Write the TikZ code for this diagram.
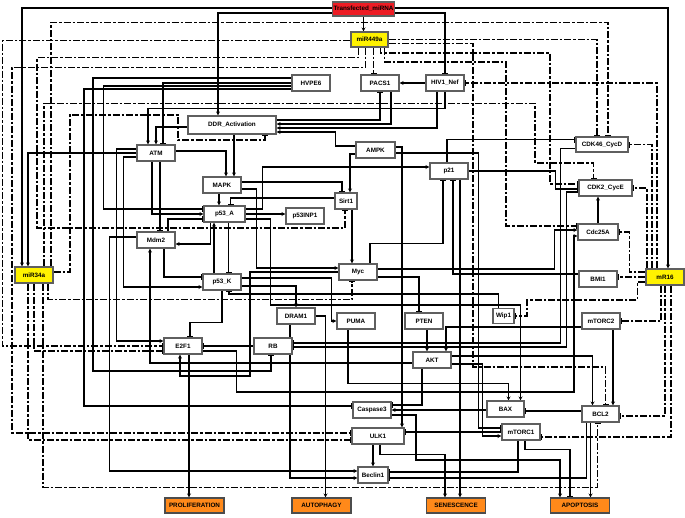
\documentclass[tikz,border=0pt]{standalone}
\usepackage{fontspec}
\setmainfont{Liberation Sans}
\usetikzlibrary{arrows.meta,backgrounds}
\definecolor{mirred}{RGB}{237,28,36}
\definecolor{miryellow}{RGB}{255,242,0}
\definecolor{fateorange}{RGB}{255,137,26}
\definecolor{boxgray}{RGB}{95,95,95}

\begin{document}
\begin{tikzpicture}[x=1pt, y=-1pt, font=\fontsize{6.3}{7}\selectfont\bfseries]
    \tikzstyle{gene} = [rectangle, draw=boxgray, fill=white, line width=1.1pt,
        minimum width=38pt, minimum height=16pt, inner sep=1pt, text centered]
    \tikzstyle{mirna} = [gene, fill=miryellow]
    \tikzstyle{fate} = [gene, fill=fateorange, draw=black!70, minimum width=59pt, minimum height=15pt]
    \tikzstyle{act} = [line width=1.25pt, -{Stealth[length=4pt,width=4pt]}]
    \tikzstyle{inh} = [line width=1.25pt, -{Bar[width=6pt]}]
    \tikzstyle{minh} = [inh, line width=1.7pt, dash pattern=on 7pt off 2pt on 2.5pt off 2pt]

    \useasboundingbox (0,0) rectangle (685,517);

    % inputs and miRNAs
    \node [gene, fill=mirred, minimum width=61pt, minimum height=14pt] (tm) at (363.5,9) {Transfected\_miRNA};
    \node [mirna, minimum width=37pt, minimum height=15pt] (m449) at (369.5,39.5) {miR449a};
    \node [mirna] (m34) at (34,275) {miR34a};
    \node [mirna] (m16) at (665,277) {mR16};

    % genes
    \node [gene] (pacs) at (380,83) {PACS1};
    \node [gene] (nef) at (445,83) {HIV1\_Nef};
    \node [gene] (hvpe) at (311,83) {HVPE6};
    \node [gene, minimum width=88pt, minimum height=18pt] (ddr) at (232,125) {DDR\_Activation};
    \node [gene] (atm) at (156,153) {ATM};
    \node [gene] (mapk) at (222,185) {MAPK};
    \node [gene, minimum width=41pt] (p53a) at (224.5,214) {p53\_A};
    \node [gene] (inp1) at (305,216) {p53INP1};
    \node [gene] (mdm2) at (156,240) {Mdm2};
    \node [gene, minimum width=22pt] (sirt) at (346,201) {Sirt1};
    \node [gene, minimum width=39pt] (ampk) at (375.5,150) {AMPK};
    \node [gene] (p21) at (449,171) {p21};
    \node [gene, minimum width=52pt, minimum height=15pt] (cdk46) at (602,144.5) {CDK46\_CycD};
    \node [gene, minimum width=53pt] (cdk2) at (605.5,188) {CDK2\_CycE};
    \node [gene, minimum width=40pt] (cdc) at (598,232) {Cdc25A};
    \node [gene] (p53k) at (222,282) {p53\_K};
    \node [gene] (myc) at (358,272) {Myc};
    \node [gene] (dram) at (296,316) {DRAM1};
    \node [gene] (puma) at (356,321) {PUMA};
    \node [gene] (pten) at (424,321) {PTEN};
    \node [gene, minimum width=21pt, minimum height=15pt] (wip) at (503.5,316) {Wip1};
    \node [gene] (bmi) at (598,279) {BMI1};
    \node [gene] (mtorc2) at (601,321) {mTORC2};
    \node [gene] (akt) at (432,360) {AKT};
    \node [gene] (e2f1) at (183,346) {E2F1};
    \node [gene] (rb) at (273,346) {RB};
    \node [gene] (casp) at (372,410) {Caspase3};
    \node [gene, minimum width=37pt] (bax) at (505.5,409) {BAX};
    \node [gene, minimum width=37pt] (bcl2) at (600.5,414) {BCL2};
    \node [gene, minimum width=52pt] (ulk) at (378,436) {ULK1};
    \node [gene] (mtorc1) at (521,432) {mTORC1};
    \node [gene, minimum width=30pt] (becl) at (373,475) {Beclin1};

    % fates
    \node [fate] (prol) at (194.5,505.5) {PROLIFERATION};
    \node [fate] (auto) at (321.5,505.5) {AUTOPHAGY};
    \node [fate] (sen) at (456,505.5) {SENESCENCE};
    \node [fate] (apo) at (580,505.5) {APOPTOSIS};

    \begin{scope}[on background layer]
    % transfection
    \draw [act] (tm.south) -- (tm.south |- m449.north);
    \draw [act] ([yshift=1pt]tm.west) -| ([xshift=-12pt]m34.north);
    \draw [act] ([yshift=-4pt]tm.west) -| ([xshift=-14pt]ddr.north);
    \draw [act] ([yshift=1pt]tm.east) -| ([xshift=3pt]m16.north);
    \draw [inh] ([yshift=-4pt]tm.east) -| (nef.north);

    % upper block
    \draw [act] (nef.west) -- (pacs.east);
    \draw [act] (nef.south) -- ++(0,17) -| ([xshift=-8pt]atm.north);
    \draw [act] ([xshift=-8pt]nef.south) |- ([yshift=-3pt]ddr.east);
    \draw [act] ([xshift=11pt]pacs.south) |- ([yshift=1pt]ddr.east);
    \draw [inh] ([yshift=5pt]ddr.east) -| (pacs.south);
    \draw [act] ([yshift=4pt]ampk.west) -- ++(-20,0) |- ([yshift=-7pt]ddr.east);
    \draw [inh] (hvpe.west) -| ([xshift=7pt]atm.north);
    \draw [act] ([yshift=-2pt]ddr.west) -| (atm.north);
    \draw [inh] ([yshift=5pt]hvpe.west) -| (93,371) -| ([xshift=-2pt]rb.south);
    \draw [inh] ([yshift=-3pt]hvpe.west) -- ++(-188,0) |- ([yshift=5pt]p53a.west);
    \draw [inh] ([yshift=-6pt]hvpe.west) -| (84,406) -- ([yshift=4pt]casp.west);
    \draw [act] ([xshift=2pt]ddr.south) -- ([xshift=2pt]ddr.south |- mapk.north);
    \draw [act] ([yshift=2pt]atm.east) -| ([xshift=4pt]mapk.north);
    \draw [act] ([xshift=-4pt]atm.south) |- (p53a.west);
    \draw [inh] ([xshift=4pt]atm.south) -- ([xshift=4pt]atm.south |- mdm2.north);
    \draw [act] (atm.west) -| ([xshift=-6pt]m34.north);
    \draw [act] ([yshift=4pt]atm.west) -- ++(-20,0) |- ([yshift=5pt]e2f1.west);
    \draw [act] ([yshift=-4pt]atm.west) -- ++(-13,0) |- ([yshift=-5pt]p53k.west);
    \draw [act] ([yshift=3pt]mdm2.west) -- ++(-27,0) |- ([yshift=4pt]becl.west);

    % p53 block
    \draw [act] ([xshift=-3pt]mapk.south) -- ([xshift=-3pt]mapk.south |- p53a.north);
    \draw [inh] ([yshift=3pt]mapk.east) -| ([xshift=-4pt]sirt.north);
    \draw [act] ([yshift=-4pt]ampk.west) -| ([xshift=4pt]sirt.north);
    \draw [act] ([yshift=-4pt]mapk.east) -- ++(15,0) |- ([yshift=4pt]myc.west);
    \draw [act] (p53a.east) -- (p53a.east -| inp1.west);
    \draw [act] ([xshift=-14pt]p53a.south) |- ([yshift=-4pt]mdm2.east);
    \draw [inh] ([xshift=12pt]mdm2.north) |- ([yshift=-5pt]p53a.west);
    \draw [inh] ([xshift=4pt]p53a.south) -- ([xshift=4pt]p53a.south |- p53k.north);
    \draw [act] ([xshift=-8pt]p53k.north) -- ([xshift=-8pt]p53k.north |- p53a.south);
    \draw [inh] ([xshift=8pt]mdm2.south) |- ([yshift=5pt]p53k.west);
    \draw [act] ([yshift=-4pt]p53k.east) -| (dram.north);
    \draw [act] ([yshift=4pt]p53k.east) -- ++(90,0) |- (puma.west);
    \draw [inh] ([xshift=-5pt]wip.north) -- ++(0,-14) -| ([xshift=7pt]p53k.south);
    \draw [inh] (p53k.south) -- ++(0,32) -| ([xshift=7pt]e2f1.north);
    \draw [act] ([yshift=5pt]p53a.east) -- ++(17,0) |- ([yshift=4pt]p21.west);
    \draw [act] ([yshift=-5pt]p53a.east) -- ++(25,0) -- ++(0,86) -| ([xshift=15pt]bax.north);
    \draw [inh] ([yshift=3pt]sirt.west) -| ([xshift=6pt]p53a.north);
    \draw [act] ([xshift=6pt]sirt.south) -- ([xshift=6pt]sirt.south |- myc.north);

    % cell cycle
    \draw [inh] (rb.west) -- (e2f1.east);
    \draw [act] ([xshift=6pt]e2f1.south) -- ([xshift=6pt]e2f1.south |- prol.north);
    \draw [act] (myc.west) -| (250,376) -| ([xshift=-3pt]e2f1.south);
    \draw [act] ([yshift=-5pt]e2f1.east) -- ++(34,0) |- (574,392) |- ([yshift=-4pt]cdc.west);
    \draw [inh] ([yshift=-4pt]cdk46.west) -- ++(-15,0) |- ([yshift=3pt]rb.east);
    \draw [inh] ([yshift=-4pt]cdk2.west) -- ++(-12,0) |- ([yshift=-1pt]rb.east);
    \draw [inh] ([xshift=-2pt]p21.north) |- ([yshift=5pt]cdk46.west);
    \draw [inh] (p21.east) -- ++(87,0) |- ([yshift=-1pt]cdk2.west);
    \draw [act] (cdc.north) -- (cdc.north |- cdk2.south);
    \draw [act] ([yshift=3pt]myc.east) -- ++(177,0) |- ([yshift=2pt]cdc.west);
    \draw [inh] ([xshift=12pt]myc.north) -- ++(0,-20) -| ([xshift=-6pt]p21.south);
    \draw [act] ([xshift=11pt]p21.south) -- ([xshift=11pt]p21.south |- sen.north);
    \draw [inh] ([yshift=5pt]bmi.west) -| ([xshift=4pt]p21.south);
    \draw [inh] ([yshift=-5pt]myc.east) -| ([xshift=-5pt]pten.north);

    % AKT / mTOR / autophagy
    \draw [act] ([xshift=3pt]pten.south) -- ([xshift=3pt]pten.south |- akt.north);
    \draw [act] ([yshift=-6pt]mtorc2.west) -| ([xshift=14pt]akt.north);
    \draw [act] ([yshift=-3pt]akt.west) -| ([xshift=-6pt]mdm2.south);
    \draw [inh] ([xshift=-10pt]akt.south) |- ([yshift=5pt]casp.east);
    \draw [act] ([yshift=-4pt]akt.east) -- ++(31,0) |- ([yshift=-4pt]mtorc1.west);
    \draw [act] ([yshift=4pt]akt.east) -| ([xshift=-8pt]bcl2.north);
    \draw [inh] ([yshift=-3pt]ampk.east) -- ++(83,0) |- ([yshift=4pt]mtorc1.west);
    \draw [act] ([yshift=3pt]ampk.east) -| ([xshift=24pt]ulk.north);
    \draw [inh] (mtorc1.west) -- (mtorc1.west -| ulk.east);
    \draw [inh] ([xshift=4pt]mtorc1.south) -- ++(0,9) -| ([xshift=-10pt]apo.north);
    \draw [inh] ([xshift=-3pt]mtorc1.south) |- ([yshift=3pt]becl.east);
    \draw [act] ([xshift=-5pt]ulk.south) -- ([xshift=-5pt]ulk.south |- becl.north);
    \draw [act] ([xshift=2pt]ulk.south) -- ++(0,10) -| ([xshift=-11pt]sen.north);
    \draw [act] (dram.east) -| ([xshift=4pt]auto.north);
    \draw [act] ([xshift=-6pt]dram.south) |- ([yshift=-3pt]becl.west);
    \draw [act] ([xshift=-8pt]puma.south) -- ++(0,54) -| ([xshift=3pt]bax.north);
    \draw [inh] ([yshift=3pt]bcl2.west) -- ([yshift=3pt]bcl2.west -| bax.east);
    \draw [act] ([yshift=-1pt]bax.west) -- ([yshift=-1pt]bax.west -| casp.east);
    \draw [act] ([yshift=-5pt]casp.east) -| (416,460) -| ([xshift=-20pt]apo.north);
    \draw [act] ([xshift=-10pt]bcl2.south) -- ([xshift=-10pt]bcl2.south |- apo.north);
    \draw [inh] ([xshift=-14pt]bcl2.south) |- ([yshift=-3pt]becl.east);
    \draw [act] ([xshift=12pt]mtorc2.south) -- ([xshift=12pt]mtorc2.south |- bcl2.north);

    % miR449a targets
    \draw [minh] (m449.east) -| ([xshift=-5pt]cdk46.north);
    \draw [minh] ([yshift=-1pt]m449.west) -- ++(-348,0) |- (e2f1.west);
    \draw [minh] ([xshift=-11pt]m449.south) -- ++(0,10) -| (37,228) -| ([xshift=-1pt]sirt.south);
    \draw [minh] ([xshift=-4pt]m449.south) -- ++(0,20) -| (12,433) -- ([yshift=3pt]ulk.west);
    \draw [minh] ([xshift=4pt]m449.south) -- ([xshift=4pt]m449.south |- pacs.north);
    \draw [minh] ([xshift=11pt]m449.south) |- (550,53) |- ([yshift=4pt]cdk2.west);
    \draw [minh] ([xshift=15pt]m449.south) |- (506,62) |- ([yshift=6pt]cdc.west);
    \draw [minh] ([yshift=-4pt]m449.east) -| (473,367) -| ([xshift=5pt]bcl2.north);

    % miR34a targets
    \draw [minh] ([xshift=17pt]m34.north) -- ++(0,-244) -| ([xshift=6pt]cdk46.north);
    \draw [minh] (m34.south) |- ([yshift=-5pt]e2f1.west);
    \draw [minh] ([xshift=14pt]m34.south) -- ++(0,16) -| ([xshift=-6pt]myc.south);
    \draw [minh] ([xshift=9pt]m34.south) -- ++(0,204) -| ([xshift=-3pt]bcl2.south);
    \draw [minh] ([xshift=-6pt]m34.south) |- ([yshift=-4pt]ulk.west);
    \draw [minh] ([xshift=10pt]m34.north) -- ++(0,-163) -| (535,163) -| ([xshift=-12pt]cdk2.north);
    \draw [minh] ([yshift=3pt]m34.east) -| (70,115) -| (178,140) -| ([xshift=33pt]ddr.south);

    % mR16 targets
    \draw [minh] ([xshift=-8pt]m16.north) |- (nef.east);
    \draw [minh] ([xshift=-13pt]m16.north) |- (cdk46.east);
    \draw [minh] ([xshift=-18pt]m16.north) |- (cdk2.east);
    \draw [minh] ([yshift=5pt]m16.west) -- ++(-16,0) |- (cdc.east);
    \draw [minh] (m16.west) -- (m16.west -| bmi.east);
    \draw [minh] ([yshift=-5pt]m16.west) -- ++(-8,0) |- (527,300) |- (wip.east);
    \draw [minh] ([xshift=-4pt]m16.south) |- (mtorc2.east);
    \draw [minh] (m16.south) |- ([yshift=-2pt]bcl2.east);
    \draw [minh] ([xshift=6pt]m16.south) |- ([yshift=-5pt]mtorc1.east);
    \end{scope}
\end{tikzpicture}
\end{document}
